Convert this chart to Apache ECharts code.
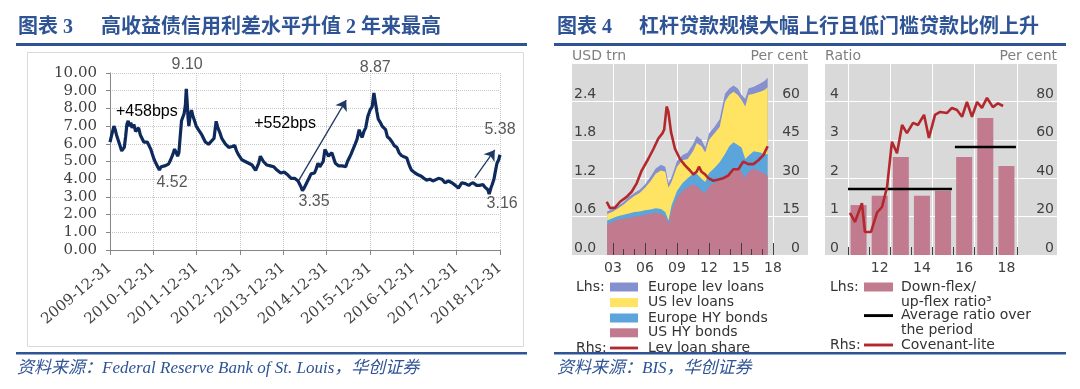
<!DOCTYPE html>
<html><head><meta charset="utf-8">
<script src="https://cdn.jsdelivr.net/npm/echarts@6/dist/echarts.min.js"></script>
<style>html,body{margin:0;padding:0;background:#fff;}#c{width:1080px;height:389px;}</style>
</head><body><div id="c"></div>
<script>
// ===== 图表3: HY spread (%), x = decimal year =====
const spreadTickLabels = ['2009-12-31','2010-12-31','2011-12-31','2012-12-31','2013-12-31','2014-12-31','2015-12-31','2016-12-31','2017-12-31','2018-12-31'];
const spreadPoints = [[2010.00,6.1],[2010.03,6.4],[2010.06,6.7],[2010.09,7.0],[2010.12,6.8],[2010.15,6.5],[2010.19,6.2],[2010.23,5.9],[2010.27,5.6],[2010.30,5.5],[2010.33,5.8],[2010.36,6.4],[2010.39,7.1],[2010.42,7.3],[2010.45,7.0],[2010.48,7.2],[2010.51,6.9],[2010.55,7.1],[2010.59,6.7],[2010.62,6.6],[2010.66,6.9],[2010.70,6.5],[2010.74,6.3],[2010.78,6.1],[2010.82,6.2],[2010.86,6.1],[2010.90,6.0],[2010.94,5.7],[2010.98,5.4],[2011.02,5.1],[2011.06,4.9],[2011.10,4.7],[2011.14,4.52],[2011.18,4.7],[2011.22,4.6],[2011.26,4.75],[2011.30,4.7],[2011.35,4.85],[2011.40,5.1],[2011.45,5.4],[2011.49,5.7],[2011.53,5.5],[2011.56,5.3],[2011.59,5.5],[2011.62,6.4],[2011.65,7.3],[2011.68,7.5],[2011.71,7.7],[2011.74,8.2],[2011.76,9.1],[2011.78,8.4],[2011.80,7.5],[2011.82,7.0],[2011.85,7.6],[2011.88,7.9],[2011.91,7.6],[2011.95,7.3],[2011.99,7.0],[2012.04,6.8],[2012.08,6.7],[2012.12,6.5],[2012.16,6.3],[2012.20,6.1],[2012.24,6.0],[2012.28,5.97],[2012.32,6.1],[2012.36,6.2],[2012.40,6.3],[2012.43,6.9],[2012.45,7.27],[2012.49,6.9],[2012.54,6.6],[2012.58,6.3],[2012.62,6.2],[2012.66,6.0],[2012.70,5.9],[2012.74,5.8],[2012.77,5.7],[2012.82,5.85],[2012.88,5.9],[2012.92,5.6],[2012.96,5.4],[2013.00,5.3],[2013.04,5.1],[2013.08,5.05],[2013.12,5.0],[2013.16,4.95],[2013.20,4.9],[2013.24,4.85],[2013.28,4.8],[2013.32,4.7],[2013.36,4.5],[2013.39,4.4],[2013.43,4.9],[2013.47,5.3],[2013.50,5.4],[2013.54,5.0],[2013.58,4.9],[2013.62,4.8],[2013.66,4.85],[2013.70,4.75],[2013.74,4.8],[2013.78,4.7],[2013.82,4.6],[2013.86,4.5],[2013.90,4.4],[2013.94,4.35],[2013.98,4.3],[2014.02,4.4],[2014.06,4.35],[2014.10,4.25],[2014.14,4.15],[2014.18,4.05],[2014.22,4.0],[2014.26,4.05],[2014.30,3.95],[2014.34,3.9],[2014.38,3.7],[2014.41,3.55],[2014.44,3.35],[2014.48,3.5],[2014.52,3.7],[2014.56,3.9],[2014.60,4.1],[2014.64,4.3],[2014.68,4.2],[2014.72,4.35],[2014.76,4.6],[2014.80,4.9],[2014.84,4.7],[2014.88,4.65],[2014.92,5.0],[2014.96,5.68],[2015.00,5.5],[2015.04,5.3],[2015.08,5.4],[2015.12,5.5],[2015.16,5.2],[2015.20,4.9],[2015.24,4.85],[2015.28,4.75],[2015.32,4.7],[2015.36,4.75],[2015.40,4.65],[2015.44,4.7],[2015.48,5.0],[2015.52,5.2],[2015.56,5.4],[2015.61,5.7],[2015.66,6.0],[2015.70,6.25],[2015.75,6.8],[2015.79,6.5],[2015.82,6.36],[2015.86,6.7],[2015.90,6.9],[2015.95,7.55],[2016.00,7.9],[2016.05,8.1],[2016.09,8.87],[2016.12,8.4],[2016.16,7.8],[2016.19,7.4],[2016.24,7.2],[2016.28,7.0],[2016.32,7.1],[2016.36,6.8],[2016.40,6.4],[2016.45,6.3],[2016.51,6.1],[2016.56,5.9],[2016.62,5.8],[2016.67,5.5],[2016.72,5.35],[2016.76,5.3],[2016.80,5.25],[2016.85,5.2],[2016.89,4.9],[2016.92,4.7],[2016.96,4.5],[2016.99,4.45],[2017.04,4.35],[2017.08,4.3],[2017.11,4.25],[2017.16,4.2],[2017.22,4.1],[2017.26,4.0],[2017.30,3.95],[2017.34,3.9],[2017.38,4.0],[2017.42,3.95],[2017.45,3.9],[2017.50,3.95],[2017.54,4.0],[2017.58,4.05],[2017.62,4.1],[2017.66,4.0],[2017.70,3.9],[2017.73,3.8],[2017.77,3.85],[2017.81,3.9],[2017.85,3.9],[2017.89,3.8],[2017.93,3.7],[2017.97,3.65],[2018.00,3.6],[2018.04,3.5],[2018.08,3.65],[2018.12,3.8],[2018.16,3.7],[2018.20,3.75],[2018.24,3.7],[2018.28,3.65],[2018.33,3.75],[2018.38,3.8],[2018.42,3.7],[2018.46,3.65],[2018.49,3.6],[2018.53,3.65],[2018.57,3.7],[2018.61,3.7],[2018.65,3.55],[2018.69,3.45],[2018.72,3.4],[2018.75,3.16],[2018.79,3.5],[2018.82,3.7],[2018.86,4.0],[2018.89,4.4],[2018.93,4.9],[2018.97,5.1],[2019.00,5.38]];
const spreadNotes = [
  {x:2011.78, y:10.45, text:'9.10', c:'#595959'},
  {x:2010.85, y:7.80, text:'+458bps', c:'#000'},
  {x:2011.43, y:3.79, text:'4.52', c:'#595959'},
  {x:2014.04, y:7.12, text:'+552bps', c:'#000'},
  {x:2014.71, y:2.71, text:'3.35', c:'#595959'},
  {x:2016.12, y:10.28, text:'8.87', c:'#595959'},
  {x:2019.00, y:6.78, text:'5.38', c:'#595959'},
  {x:2019.05, y:2.60, text:'3.16', c:'#595959'}
];
const spreadArrows = [[[2014.36,3.95],[2015.45,8.47]],[[2018.42,4.07],[2018.88,5.65]]];

// ===== 图表4 left: leveraged finance (USD trn) =====
const levYears = [2002.45,2003,2003.5,2004,2004.5,2005,2005.5,2006,2006.5,2007,2007.5,2007.9,2008.2,2008.5,2009,2009.5,2010,2010.5,2010.85,2011.3,2011.65,2012,2012.5,2013,2013.5,2013.9,2014.3,2014.7,2015.05,2015.4,2015.7,2016.2,2016.8,2017.2,2017.5];
const usHYBonds   = [0.48,0.52,0.55,0.57,0.58,0.60,0.61,0.63,0.64,0.66,0.65,0.60,0.48,0.70,0.90,1.00,1.06,1.10,1.08,1.00,0.97,1.08,1.12,1.18,1.24,1.28,1.32,1.35,1.30,1.20,1.30,1.35,1.30,1.27,1.24];
const euHYBonds   = [0.06,0.06,0.06,0.06,0.07,0.07,0.07,0.07,0.07,0.07,0.07,0.07,0.06,0.08,0.10,0.12,0.14,0.17,0.19,0.19,0.17,0.20,0.24,0.27,0.34,0.42,0.44,0.37,0.38,0.30,0.25,0.27,0.30,0.31,0.34];
const usLevLoans  = [0.10,0.10,0.12,0.16,0.21,0.25,0.29,0.35,0.44,0.54,0.60,0.63,0.51,0.37,0.38,0.36,0.30,0.35,0.48,0.51,0.46,0.52,0.54,0.55,0.82,0.80,0.79,0.78,0.74,0.82,0.95,0.90,0.95,1.00,1.04];
const euLevLoans  = [0.04,0.04,0.04,0.04,0.05,0.05,0.05,0.05,0.07,0.08,0.09,0.08,0.07,0.07,0.09,0.08,0.10,0.11,0.11,0.10,0.08,0.10,0.10,0.12,0.12,0.10,0.10,0.10,0.08,0.12,0.10,0.11,0.13,0.14,0.15];
const shareYears = [2002.41,2002.72,2003.19,2003.66,2004.28,2004.75,2005.22,2005.69,2006.3,2006.8,2007.25,2007.63,2007.8,2008.03,2008.19,2008.44,2008.81,2009.28,2009.75,2010.22,2010.53,2010.84,2011.06,2011.3,2011.63,2011.94,2012.4,2012.88,2013.34,2013.8,2014.28,2014.75,2015.22,2015.69,2016.16,2016.63,2017.1,2017.5];
const levLoanShare = [20.8,18.3,18.5,20.8,22.7,24.7,28,33,37.5,41.5,45.5,47.5,49,58,56,48,41.5,37.5,35,33,31.5,32.5,34.5,32.5,31.5,30,29,29.5,30,31,33.5,33.5,36.5,35.5,35.5,37,39,42.5];
const levTickYears = [2003,2006,2009,2012,2015,2018];
const levTickLabels = ['03','06','09','12','15','18'];
const levMinorYears = [2004,2005,2007,2008,2010,2011,2013,2014,2016,2017];

// ===== 图表4 right: flex ratio & covenant-lite =====
const flexYears = [2011,2012,2013,2014,2015,2016,2017,2018];
const flexRatio = [1.30,1.54,2.55,1.54,1.67,2.55,3.57,2.32];
const avgPeriod1 = [[2010.5,1.72],[2015.42,1.72]];
const avgPeriod2 = [[2015.56,2.81],[2018.45,2.81]];
const covYears = [2010.59,2010.83,2011.16,2011.30,2011.59,2011.87,2012.11,2012.35,2012.58,2012.82,2013.06,2013.29,2013.58,2013.81,2014.10,2014.33,2014.62,2014.86,2015.19,2015.42,2015.66,2015.90,2016.13,2016.37,2016.61,2016.84,2017.08,2017.36,2017.60,2017.84];
const covLite = [21.9,17.2,27,12,12,22,25,35.5,59,53,67.7,63.5,68.8,67.7,73,61,73,74.5,74,76.6,75.5,72,79.7,72,79.7,76.6,81.8,77,79,77.6];
const flexTickYears = [2012,2014,2016,2018];
const flexTickLabels = ['12','14','16','18'];
const flexBoundaries = [2010.5,2011.5,2012.5,2013.5,2014.5,2015.5,2016.5,2017.5,2018.5];
const flexGridYears = [2010.5,2012.5,2014.5,2016.5,2018.5];

// ---- derived stacked tops ----
function cum(arrs){ return levYears.map((_,i)=>arrs.reduce((s,a)=>s+a[i],0)); }
const topUSHY = cum([usHYBonds]);
const topEUHY = cum([usHYBonds,euHYBonds]);
const topUSLev = cum([usHYBonds,euHYBonds,usLevLoans]);
const topEULev = cum([usHYBonds,euHYBonds,usLevLoans,euLevLoans]);
const zip = (xs,ys)=>xs.map((x,i)=>[x,ys[i]]);

const C = {pink:'#c17a8e', blue:'#5ba4dc', yellow:'#ffe463', purple:'#8590cf', red:'#b3282d', gray:'#d9d9d9', navy:'#0e2a5c', blueText:'#2f5496'};
const lineIcon = 'path://M0,0H30V3H0Z';
const lgText = (pad)=>({fontFamily:'DejaVu Sans', fontSize:14, color:'#333', lineHeight:16, padding:[0,0,0,pad]});
function lg(name, icon, left, top, w, pad, fmt){
  const o = {show:true, orient:'vertical', left:left, top:top, padding:0, itemGap:0, itemWidth:w, itemHeight:9,
    selectedMode:false, data:[{name:name, icon:icon}], textStyle:lgText(pad)};
  if (fmt) o.formatter = fmt;
  return o;
}
const areaSeries = (name, data, color, z) => ({
  name, type:'line', xAxisIndex:1, yAxisIndex:1, data, color, symbol:'none', showSymbol:false,
  lineStyle:{width:0, color}, itemStyle:{color}, areaStyle:{color, opacity:1}, z
});

const option = {
  animation:false,
  textStyle:{fontFamily:'DejaVu Sans'},
  grid:[
    {left:110, top:73, width:390, height:177},
    {left:572, top:63, width:236, height:192, show:true, backgroundColor:C.gray, borderWidth:0},
    {left:825, top:63, width:232, height:192, show:true, backgroundColor:C.gray, borderWidth:0}
  ],
  xAxis:[
    {type:'value', gridIndex:0, min:2010, max:2019, interval:1,
     axisLine:{show:true, lineStyle:{color:'#868686'}},
     axisTick:{show:true, length:5, lineStyle:{color:'#868686'}},
     splitLine:{show:true, lineStyle:{type:'dotted', color:'#c8c8c8'}},
     axisLabel:{rotate:40, margin:16, fontFamily:'DejaVu Serif', fontSize:15, color:'#404040',
       formatter:v=>spreadTickLabels[Math.round(v-2010)]}},
    {type:'value', gridIndex:1, min:1999.156, max:2021.281, position:'bottom', z:10,
     axisLine:{show:false}, splitLine:{show:false},
     axisTick:{show:true, inside:true, length:12, customValues:levTickYears, lineStyle:{color:'#404040'}},
     axisLabel:{customValues:levTickYears, margin:6, fontSize:14, color:'#404040',
       formatter:v=>levTickLabels[levTickYears.indexOf(Math.round(v))]}},
    {type:'value', gridIndex:1, min:1999.156, max:2021.281, position:'bottom', z:10,
     axisLine:{show:false}, splitLine:{show:false}, axisLabel:{show:false},
     axisTick:{show:true, inside:true, length:6, customValues:levMinorYears, lineStyle:{color:'#404040'}}},
    {type:'value', gridIndex:2, min:2009.411, max:2020.394, position:'bottom', z:10,
     axisLine:{show:false}, splitLine:{show:false},
     axisTick:{show:true, inside:true, length:8, customValues:flexBoundaries, lineStyle:{color:'#404040'}},
     axisLabel:{customValues:flexTickYears, margin:6, fontSize:14, color:'#404040',
       formatter:v=>flexTickLabels[flexTickYears.indexOf(Math.round(v))]}}
  ],
  yAxis:[
    {type:'value', gridIndex:0, min:0, max:10, interval:1,
     axisLine:{show:true, lineStyle:{color:'#868686'}},
     axisTick:{show:true, length:4, lineStyle:{color:'#868686'}},
     splitLine:{show:true, lineStyle:{type:'dotted', color:'#c8c8c8'}},
     axisLabel:{margin:13, fontFamily:'DejaVu Serif', fontSize:15, color:'#404040', formatter:v=>v.toFixed(2)}},
    {type:'value', gridIndex:1, min:0, max:3, interval:0.6, position:'left',
     name:'USD trn', nameLocation:'end', nameGap:7,
     nameTextStyle:{color:'#7f7f7f', fontSize:14, align:'left', verticalAlign:'middle'},
     axisLine:{show:false}, axisTick:{show:false},
     splitLine:{show:true, lineStyle:{color:'#ffffff', width:1}},
     axisLabel:{inside:true, align:'left', verticalAlign:'bottom', margin:2, fontSize:14, color:'#404040',
       formatter:v=>v>2.9?'':v.toFixed(1)}},
    {type:'value', gridIndex:1, min:0, max:75, interval:15, position:'right',
     name:'Per cent', nameLocation:'end', nameGap:7,
     nameTextStyle:{color:'#7f7f7f', fontSize:14, align:'right', verticalAlign:'middle'},
     axisLine:{show:false}, axisTick:{show:false}, splitLine:{show:false},
     axisLabel:{inside:true, align:'right', verticalAlign:'bottom', margin:8, fontSize:14, color:'#404040',
       formatter:v=>v>70?'':String(v)}},
    {type:'value', gridIndex:2, min:0, max:5, interval:1, position:'left',
     name:'Ratio', nameLocation:'end', nameGap:7,
     nameTextStyle:{color:'#7f7f7f', fontSize:14, align:'left', verticalAlign:'middle'},
     axisLine:{show:false}, axisTick:{show:false},
     splitLine:{show:true, lineStyle:{color:'#ffffff', width:1}},
     axisLabel:{inside:true, align:'left', verticalAlign:'bottom', margin:5, fontSize:14, color:'#404040',
       formatter:v=>v>4.5?'':String(v)}},
    {type:'value', gridIndex:2, min:0, max:100, interval:20, position:'right',
     name:'Per cent', nameLocation:'end', nameGap:7,
     nameTextStyle:{color:'#7f7f7f', fontSize:14, align:'right', verticalAlign:'middle'},
     axisLine:{show:false}, axisTick:{show:false}, splitLine:{show:false},
     axisLabel:{inside:true, align:'right', verticalAlign:'bottom', margin:3, fontSize:14, color:'#404040',
       formatter:v=>v>90?'':String(v)}}
  ],
  legend:[
    lg('Europe lev loans','rect',610,279,28,5),
    lg('US lev loans','rect',610,294.6,28,5),
    lg('Europe HY bonds','rect',610,310,28,5),
    lg('US HY bonds','rect',610,324.8,28,5),
    lg('Lev loan share',lineIcon,610,340,28,5),
    lg('Down-flex/up-flex ratio³','rect',864,279,29,3,'Down-flex/'),
    lg('Average ratio over the period',lineIcon,864,307.6,29,3,'Average ratio over'),
    lg('Covenant-lite',lineIcon,864,337,29,3)
  ],
  series:[
    {name:'高收益债信用利差', type:'line', xAxisIndex:0, yAxisIndex:0, data:spreadPoints,
     symbol:'none', showSymbol:false, lineStyle:{color:C.navy, width:3.2}, itemStyle:{color:C.navy}, z:3,
     markLine:{silent:true, symbol:['none','arrow'], symbolSize:10, label:{show:false},
       lineStyle:{color:'#1f3864', width:1.3, type:'solid'},
       data:spreadArrows.map(a=>[{coord:a[0]},{coord:a[1]}])}},
    {name:'grid1-lines', type:'line', xAxisIndex:1, yAxisIndex:1, data:[[2003,0]], symbol:'none',
     lineStyle:{opacity:0}, silent:true, z:1,
     markLine:{silent:true, z:1, symbol:['none','none'], label:{show:false},
       lineStyle:{color:'#ffffff', width:1, type:'solid'}, data:levTickYears.map(v=>({xAxis:v}))}},
    areaSeries('Europe lev loans', zip(levYears, topEULev), C.purple, 2),
    areaSeries('US lev loans', zip(levYears, topUSLev), C.yellow, 2),
    areaSeries('Europe HY bonds', zip(levYears, topEUHY), C.blue, 2),
    areaSeries('US HY bonds', zip(levYears, topUSHY), C.pink, 2),
    {name:'Lev loan share', type:'line', xAxisIndex:1, yAxisIndex:2, data:zip(shareYears, levLoanShare),
     color:C.red, symbol:'none', showSymbol:false, lineStyle:{color:C.red, width:2.6}, itemStyle:{color:C.red}, z:4},
    {name:'grid2-lines', type:'line', xAxisIndex:3, yAxisIndex:3, data:[[2011,0]], symbol:'none',
     lineStyle:{opacity:0}, silent:true, z:1,
     markLine:{silent:true, z:1, symbol:['none','none'], label:{show:false},
       lineStyle:{color:'#ffffff', width:1, type:'solid'}, data:flexGridYears.map(v=>({xAxis:v}))}},
    {name:'Down-flex/up-flex ratio³', type:'bar', xAxisIndex:3, yAxisIndex:3, data:zip(flexYears, flexRatio),
     barWidth:16, color:C.pink, itemStyle:{color:C.pink}, z:2},
    {name:'Average ratio over the period', type:'line', xAxisIndex:3, yAxisIndex:3, data:avgPeriod1,
     color:'#000', symbol:'none', showSymbol:false, lineStyle:{color:'#000', width:2.5}, itemStyle:{color:'#000'}, z:3},
    {name:'Average ratio over the period', type:'line', xAxisIndex:3, yAxisIndex:3, data:avgPeriod2,
     color:'#000', symbol:'none', showSymbol:false, lineStyle:{color:'#000', width:2.5}, itemStyle:{color:'#000'}, z:3},
    {name:'Covenant-lite', type:'line', xAxisIndex:3, yAxisIndex:4, data:zip(covYears, covLite),
     color:C.red, symbol:'none', showSymbol:false, lineStyle:{color:C.red, width:2.6}, itemStyle:{color:C.red}, z:4}
  ]
};

const chart = echarts.init(document.getElementById('c'), null, {width:1080, height:389});
chart.setOption(option);

const titleFont = {fontFamily:'"Liberation Serif","Noto Sans CJK SC"', fontWeight:'bold', fontSize:20, fill:C.blueText, verticalAlign:'middle'};
const footFont = {fontFamily:'"Liberation Serif","Noto Sans CJK SC"', fontStyle:'italic', fontSize:17, fill:C.blueText, verticalAlign:'middle'};
const lgFont = {fontFamily:'DejaVu Sans', fontSize:14, fill:'#333', verticalAlign:'middle'};
const T = (x,y,text,st)=>({type:'text', x, y, silent:true, style:Object.assign({text}, st)});
const R = (x,y,w,h,fill)=>({type:'rect', silent:true, shape:{x,y,width:w,height:h}, style:{fill}});

const graphics = [
  {type:'rect', silent:true, z:-1, shape:{x:27.5, y:52.5, width:496, height:294}, style:{fill:'none', stroke:'#d9d9d9', lineWidth:1}},
  T(18,28,'图表 3',titleFont), T(101,28,'高收益债信用利差水平升值 2 年来最高',titleFont),
  T(557,28,'图表 4',titleFont), T(639,28,'杠杆贷款规模大幅上行且低门槛贷款比例上升',titleFont),
  R(16,43,511,3,C.blueText), R(554,43,512,3,C.blueText),
  R(16,352,511,2.5,C.blueText), R(554,352,512,2.5,C.blueText),
  T(17,369,'资料来源：Federal Reserve Bank of St. Louis，华创证券',footFont),
  T(557,369,'资料来源：BIS，华创证券',footFont),
  T(576,287,'Lhs:',lgFont), T(576,348,'Rhs:',lgFont),
  T(830,287,'Lhs:',lgFont), T(830,345,'Rhs:',lgFont),
  T(901,302.5,'up-flex ratio³',lgFont), T(901,330,'the period',lgFont)
];
spreadNotes.forEach(n=>{
  const p = chart.convertToPixel({gridIndex:0}, [n.x, n.y]);
  graphics.push({type:'text', x:p[0], y:p[1], silent:true,
    style:{text:n.text, fill:n.c, fontFamily:'Liberation Sans', fontSize:16, align:'center', verticalAlign:'middle'}});
});
chart.setOption({graphic:graphics});
</script>
</body></html>
